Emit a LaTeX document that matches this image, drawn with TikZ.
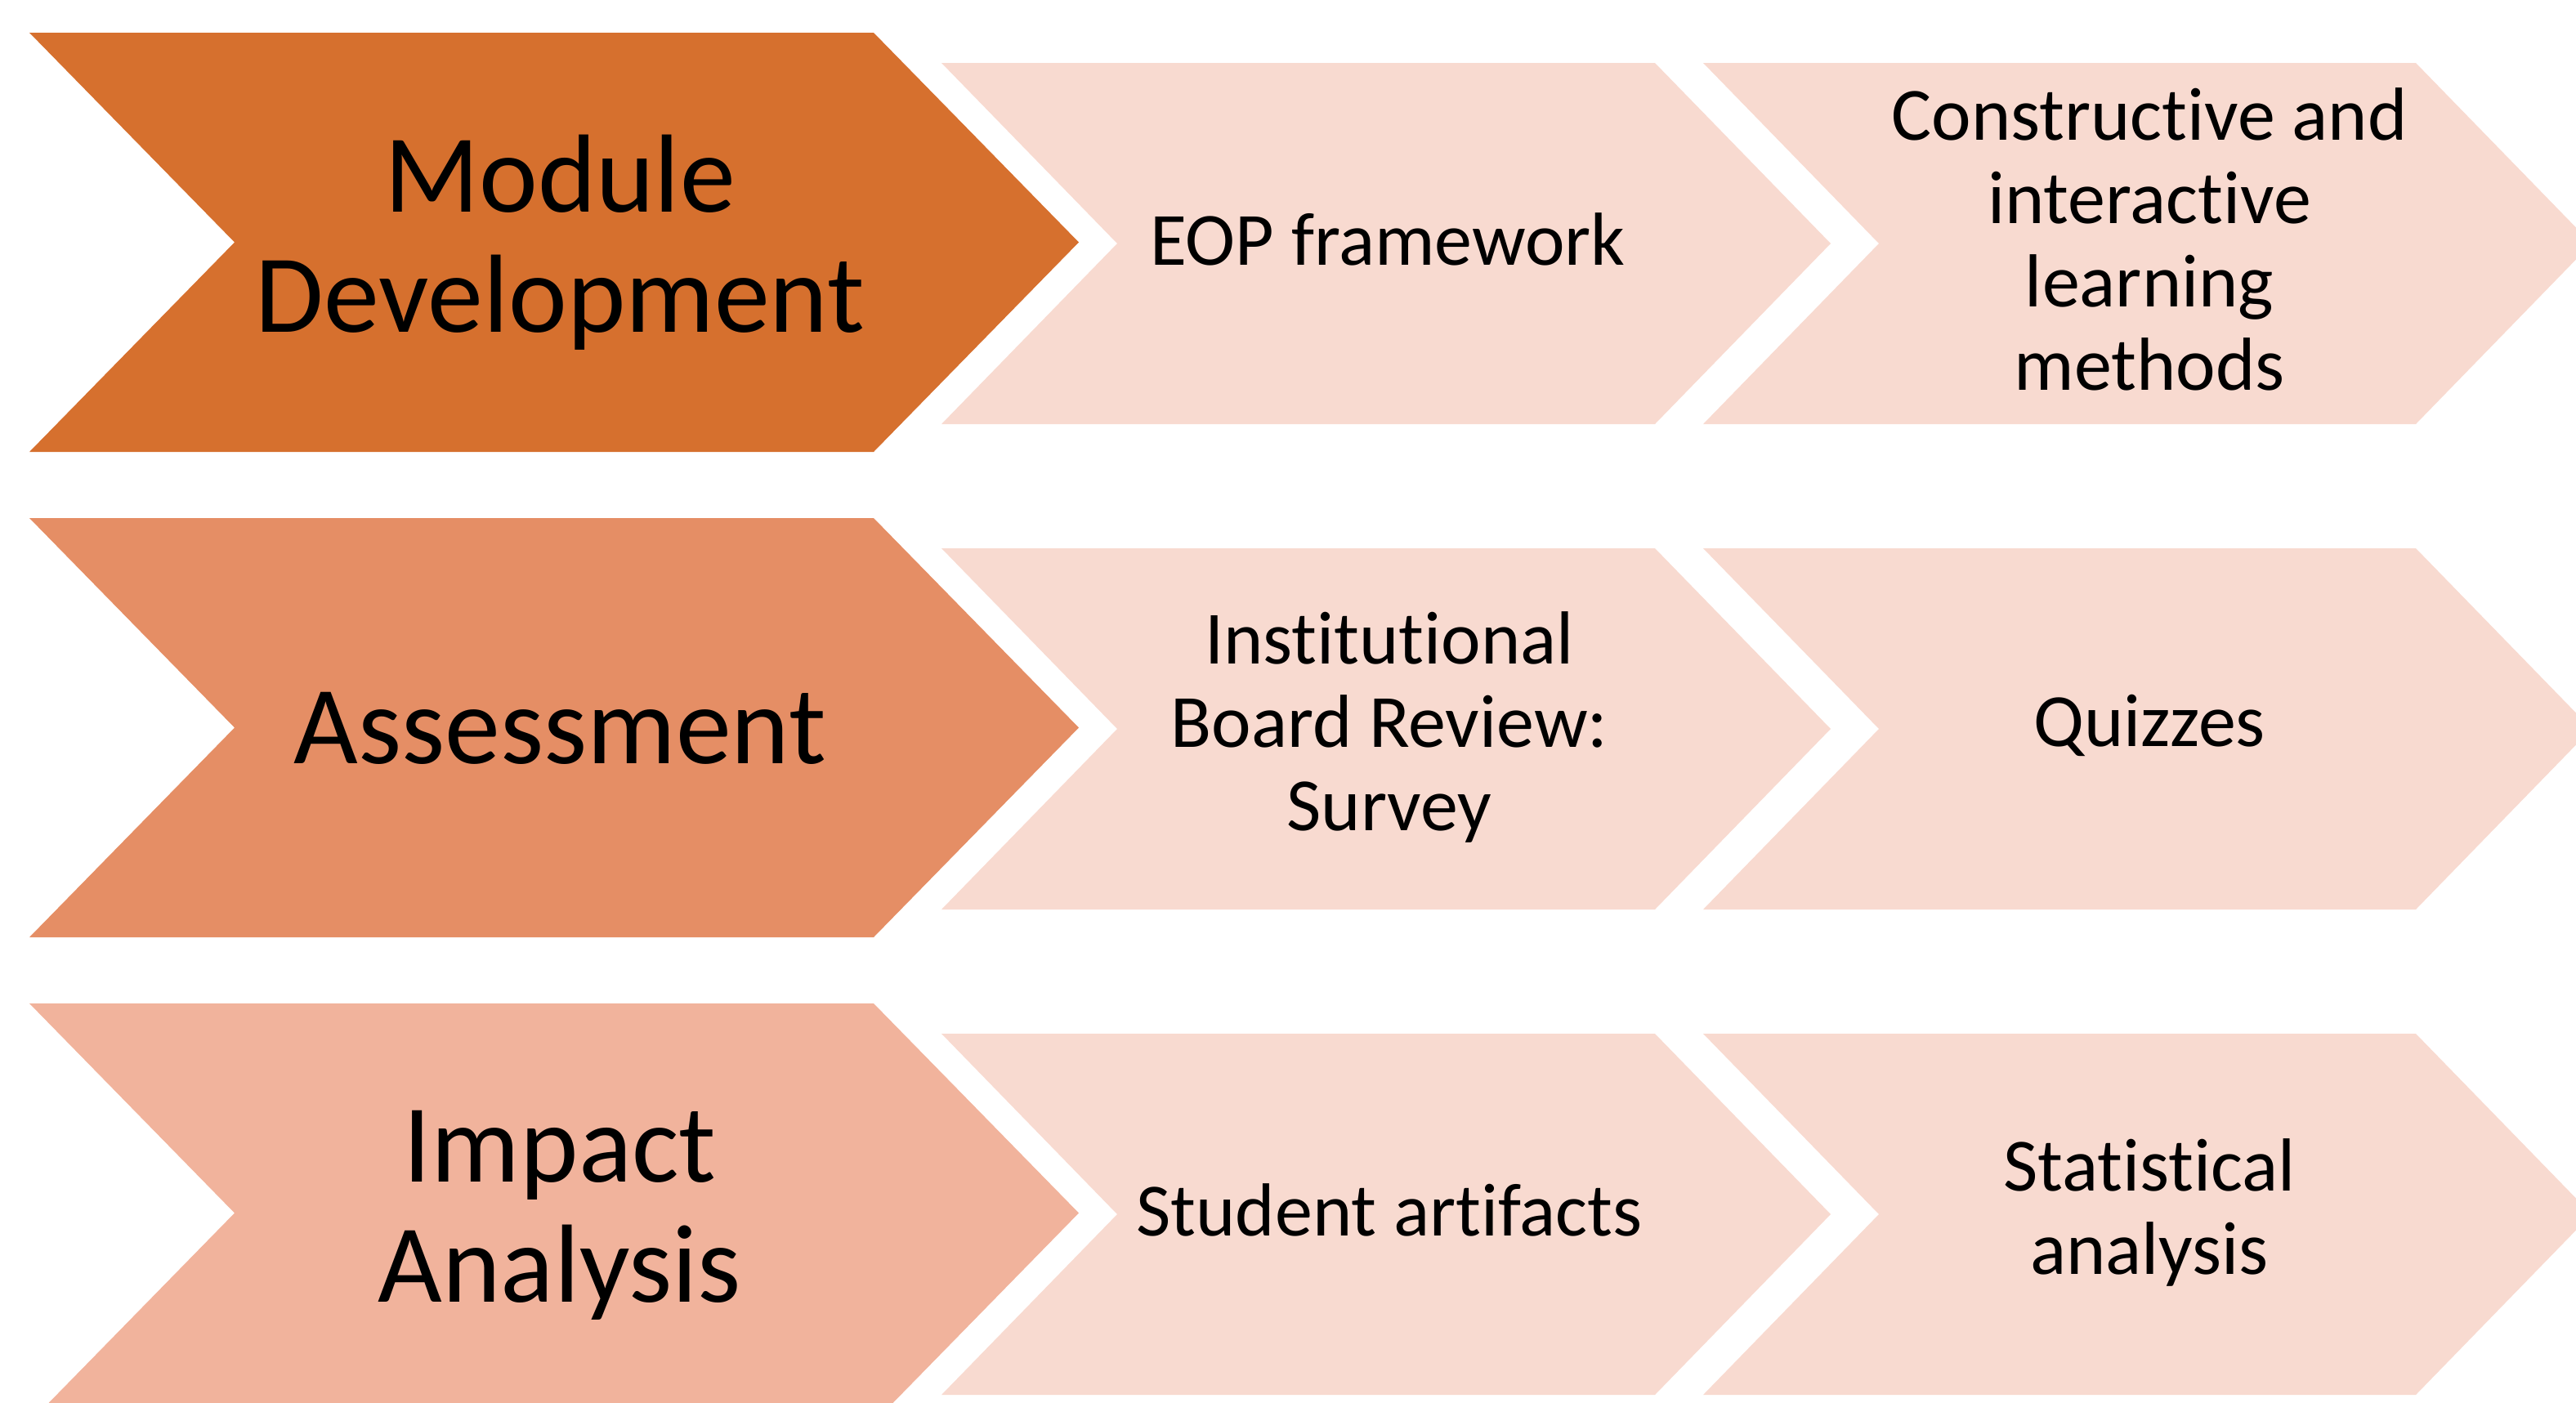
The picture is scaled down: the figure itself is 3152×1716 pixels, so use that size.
\documentclass[tikz,border=0pt]{standalone}
\usepackage{fontspec}
\setmainfont[Ligatures={NoCommon,NoContextual},Contextuals={NoAlternate}]{Carlito}
\definecolor{cone}{RGB}{214,112,46}
\definecolor{ctwo}{RGB}{229,142,101}
\definecolor{cthree}{RGB}{241,179,156}
\definecolor{cpale}{RGB}{248,218,208}
% fill, x left, x right (corner), y top, y bottom, depth
\newcommand\mychev[6]{\fill[#1] (#2,#4) -- (#3,#4) -- ({#3+#6},{(#4+#5)/2}) -- (#3,#5) -- (#2,#5) -- ({#2+#6},{(#4+#5)/2}) -- cycle;}
\begin{document}
\begin{tikzpicture}[x=0.25pt,y=-0.25pt,
  bigtext/.style={font=\fontsize{34}{36.75}\selectfont, align=center, text=black, inner sep=0pt},
  smalltext/.style={font=\fontsize{23}{25.5}\selectfont, align=center, text=black, inner sep=0pt}]
\useasboundingbox (0,0) rectangle (3152,1716);
\clip (0,0) rectangle (3152,1716);
\foreach \dy/\col in {0/cone,594/ctwo,1188/cthree}{
  \mychev{\col}{36}{1069}{40+\dy}{553+\dy}{251}
  \mychev{cpale}{1152}{2025}{77+\dy}{519+\dy}{215}
  \mychev{cpale}{2084}{2956}{77+\dy}{519+\dy}{215}
}
\node[bigtext] (md) at (685,297) {Module\\Development};
\node[smalltext] (eop) at (1698,293) {EOP framework};
\node[smalltext] (cil) at (2630,293) {Constructive and\\interactive\\learning\\methods};
\node[bigtext] (as) at (685,891) {Assessment};
\node[smalltext] (ibr) at (1700,890) {Institutional\\Board Review:\\Survey};
\node[smalltext] (qz) at (2630,888) {Quizzes};
\node[bigtext] (ia) at (685,1487) {Impact\\Analysis};
\node[smalltext] (sa) at (1700,1481) {Student artifacts};
\node[smalltext] (st) at (2630,1484) {Statistical\\analysis};
\end{tikzpicture}
\end{document}
